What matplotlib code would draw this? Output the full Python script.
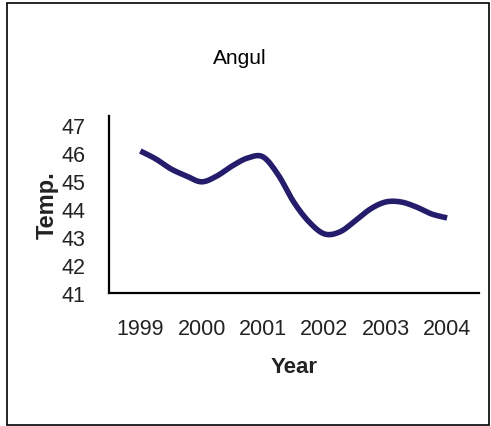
import numpy as np
import matplotlib.pyplot as plt
from matplotlib.patches import Rectangle

# years shown on the axis, temperature read at quarter-year steps
years = ['1999', '2000', '2001', '2002', '2003', '2004']
temps = [46.07, 45.79, 45.43, 45.18, 44.97,
         45.18, 45.54, 45.82, 45.86, 45.21,
         44.25, 43.54, 43.11, 43.18, 43.57,
         44.00, 44.25, 44.25, 44.07, 43.82, 43.68]

x = np.arange(len(temps)) / 4.0
y = np.array(temps)


# smoothed line like the spreadsheet one (Catmull-Rom through the points)
def smooth(px, py, n=20):
    px = np.concatenate([[2*px[0]-px[1]], px, [2*px[-1]-px[-2]]])
    py = np.concatenate([[2*py[0]-py[1]], py, [2*py[-1]-py[-2]]])
    t = np.linspace(0, 1, n, endpoint=False)
    xs, ys = [], []
    for i in range(1, len(px)-2):
        for arr, out in ((px, xs), (py, ys)):
            p0, p1, p2, p3 = arr[i-1], arr[i], arr[i+1], arr[i+2]
            out.extend(0.5*((2*p1) + (-p0+p2)*t + (2*p0-5*p1+4*p2-p3)*t**2
                            + (-p0+3*p1-3*p2+p3)*t**3))
    xs.append(px[-2])
    ys.append(py[-2])
    return np.array(xs), np.array(ys)


plt.rcParams['font.family'] = ['Liberation Sans', 'DejaVu Sans']

fig = plt.figure(figsize=(4.91, 4.27), dpi=100)
fig.patches.append(Rectangle((7/491, 1/427), 482/491, 422/427, transform=fig.transFigure,
                             fill=False, edgecolor='black', linewidth=1.2))

ax = fig.add_axes([109/491, 133/427, 370/491, 177/427])
sx, sy = smooth(x, y)
ax.plot(sx, sy, color='#251C6B', linewidth=4, solid_capstyle='butt')

ax.set_xlim(-0.51, 5.52)
ax.set_ylim(41, 47.32)
ax.set_xticks(range(len(years)))
ax.set_xticklabels(years)
ax.set_yticks(range(41, 48))
ax.tick_params(length=0, labelsize=15.5, colors='#222222')
ax.tick_params(axis='x', pad=18)
ax.tick_params(axis='y', pad=17)
for s in ['top', 'right']:
    ax.spines[s].set_visible(False)
for s in ['left', 'bottom']:
    ax.spines[s].set_linewidth(1.6)

ax.set_xlabel('Year', fontsize=16, fontweight='bold', labelpad=12, color='#222222')
ax.set_ylabel('Temp.', fontsize=17, fontweight='bold', labelpad=2, color='#222222')
fig.text(240/491, 1 - 59/427, 'Angul', ha='center', va='center', fontsize=15)

fig.savefig('out.png', dpi=100)
